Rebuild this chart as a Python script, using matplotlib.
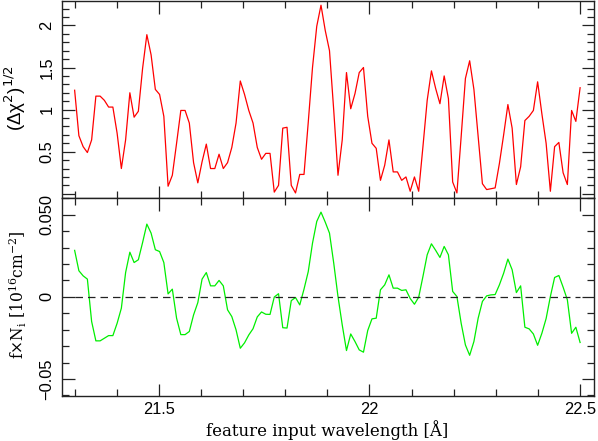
import numpy as np
import matplotlib
matplotlib.use("Agg")
import matplotlib.pyplot as plt
from matplotlib.ticker import MultipleLocator

# ---------------- data ----------------
wl_start, wl_stop, n_pts = 21.3, 22.5, 120
wavelength = np.linspace(wl_start, wl_stop, n_pts)

delta_chi = [1.23, 0.69, 0.56, 0.49, 0.64, 1.16, 1.16, 1.11, 1.03, 1.03,
             0.72, 0.30, 0.64, 1.20, 0.91, 0.98, 1.49, 1.89, 1.65, 1.24,
             1.18, 0.92, 0.09, 0.22, 0.60, 0.99, 0.99, 0.84, 0.37, 0.13,
             0.38, 0.59, 0.30, 0.30, 0.47, 0.30, 0.37, 0.55, 0.84, 1.34,
             1.18, 0.99, 0.84, 0.55, 0.41, 0.48, 0.48, 0.02, 0.10, 0.78,
             0.79, 0.10, 0.01, 0.23, 0.23, 0.85, 1.50, 1.99, 2.24, 1.94,
             1.70, 0.99, 0.22, 0.64, 1.44, 1.01, 1.19, 1.44, 1.50, 0.92,
             0.60, 0.54, 0.16, 0.34, 0.64, 0.26, 0.26, 0.16, 0.20, 0.03,
             0.20, 0.03, 0.56, 1.11, 1.46, 1.25, 1.07, 1.40, 1.13, 0.14,
             0.01, 0.68, 1.37, 1.58, 1.24, 0.68, 0.12, 0.05, 0.06, 0.07,
             0.36, 0.70, 1.06, 0.78, 0.11, 0.32, 0.87, 0.92, 0.99, 1.33,
             0.95, 0.60, 0.03, 0.56, 0.61, 0.25, 0.11, 0.99, 0.86, 1.26]

fxN = [0.0283, 0.0159, 0.0128, 0.0108, -0.0150, -0.0268, -0.0268, -0.0252, -0.0236, -0.0236,
       -0.0161, -0.0069, 0.0148, 0.0272, 0.0209, 0.0226, 0.0331, 0.0443, 0.0388, 0.0287,
       0.0276, 0.0209, 0.0018, 0.0047, -0.0130, -0.0230, -0.0230, -0.0211, -0.0110, -0.0035,
       0.0108, 0.0148, 0.0067, 0.0067, 0.0100, 0.0067, -0.0079, -0.0120, -0.0201, -0.0313,
       -0.0280, -0.0232, -0.0194, -0.0122, -0.0092, -0.0106, -0.0107, -0.0001, 0.0019, -0.0188,
       -0.0190, -0.0023, -0.0004, -0.0049, 0.0047, 0.0154, 0.0327, 0.0459, 0.0516, 0.0455,
       0.0388, 0.0205, 0.0002, -0.0171, -0.0327, -0.0226, -0.0272, -0.0323, -0.0337, -0.0205,
       -0.0134, -0.0130, 0.0043, 0.0073, 0.0134, 0.0053, 0.0053, 0.0039, 0.0043, -0.0010,
       -0.0045, -0.0002, 0.0124, 0.0256, 0.0323, 0.0283, 0.0240, 0.0307, 0.0256, 0.0033,
       0.0002, -0.0161, -0.0293, -0.0356, -0.0272, -0.0130, -0.0028, 0.0006, 0.0012, 0.0014,
       0.0073, 0.0144, 0.0230, 0.0165, 0.0026, 0.0067, -0.0185, -0.0195, -0.0226, -0.0295,
       -0.0222, -0.0132, 0.0002, 0.0118, 0.0130, 0.0059, -0.0018, -0.0222, -0.0185, -0.0278]

x_ticks = [21.5, 22.0, 22.5]
x_tick_labels = ["21.5", "22", "22.5"]
top_y_ticks = [0.0, 0.5, 1.0, 1.5, 2.0]
top_y_tick_labels = ["", "0.5", "1", "1.5", "2"]
bot_y_ticks = [-0.05, 0.0, 0.05]
bot_y_tick_labels = ["\u22120.05", "0", "0.050"]

# ---------------- figure ----------------
W, H = 598, 441
fig = plt.figure(figsize=(W / 100, H / 100), dpi=100)

left_px, right_px = 62, 594
top_px, mid_px, bot_px = 1, 198, 395.7
L = left_px / W
Wd = (right_px - left_px) / W
ax1 = fig.add_axes([L, 1 - mid_px / H, Wd, (mid_px - top_px) / H])
ax2 = fig.add_axes([L, 1 - bot_px / H, Wd, (bot_px - mid_px) / H])

sans = "Liberation Sans"
serif = "DejaVu Serif"
tick_fs = 11.8
spine_col = "#222222"

ax1.plot(wavelength, delta_chi, color="#ff0000", lw=0.9)
ax2.plot(wavelength, fxN, color="#00ee00", lw=0.9)
ax2.hlines(0, wavelength[0], wavelength[-1], colors="#222222",
           linestyles=(0, (6, 4)), lw=0.9)

for ax in (ax1, ax2):
    ax.set_xlim(21.27, 22.533)
    ax.xaxis.set_major_locator(MultipleLocator(0.5))
    ax.xaxis.set_minor_locator(MultipleLocator(0.1))
    ax.tick_params(which="both", direction="in", top=True, right=True,
                   color=spine_col, width=0.9)
    ax.tick_params(which="major", length=9)
    ax.tick_params(which="minor", length=5)
    ax.tick_params(axis="y", pad=5.5)
    ax.tick_params(axis="x", pad=4.5)
    for s in ax.spines.values():
        s.set_color(spine_col)
        s.set_linewidth(1.0)

ax1.set_ylim(-0.05, 2.29)
ax1.yaxis.set_minor_locator(MultipleLocator(0.1))
ax1.set_yticks(top_y_ticks, top_y_tick_labels, rotation=90, va="center",
               fontsize=tick_fs, family=sans)
ax1.set_xticks(x_ticks, [])

ax2.set_ylim(-0.0602, 0.0602)
ax2.yaxis.set_minor_locator(MultipleLocator(0.01))
ax2.set_yticks(bot_y_ticks, bot_y_tick_labels, rotation=90, va="center",
               fontsize=tick_fs, family=sans)
ax2.set_xticks(x_ticks, x_tick_labels, fontsize=tick_fs, family=sans)

fig.text(15 / W, 1 - 98 / H, "(\u0394\u03c7$^{2}$)$^{1/2}$", rotation=90,
         ha="center", va="center", fontsize=13.5, family=sans,
         math_fontfamily="dejavusans")
fig.text(18 / W, 1 - 295 / H, "f\u00d7N$_{\\rm i}$ [10$^{16}$cm$^{-2}$]",
         rotation=90, ha="center", va="center", fontsize=11.2, family=serif,
         math_fontfamily="dejavuserif")
fig.text(327 / W, 1 - 430 / H, "feature input wavelength [\u00c5]",
         ha="center", va="center", fontsize=12, family=serif)

fig.savefig("out.png", dpi=100)
